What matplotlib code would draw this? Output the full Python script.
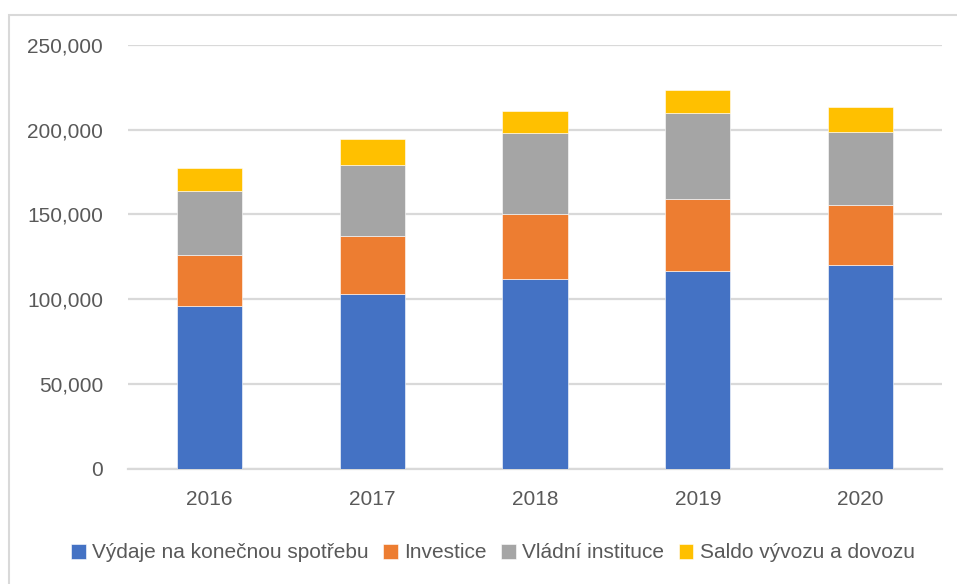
import numpy as np
import matplotlib
matplotlib.use("Agg")
import matplotlib.pyplot as plt
from matplotlib.ticker import FuncFormatter

years = ["2016", "2017", "2018", "2019", "2020"]
spotreba = [96000, 103300, 111750, 116850, 120000]
investice = [29900, 34000, 38500, 42450, 35550]
vladni = [37900, 41600, 47750, 50650, 43000]
saldo = [13700, 15500, 12750, 13550, 14550]

series = [
    ("Výdaje na konečnou spotřebu", spotreba, "#4472C4"),
    ("Investice", investice, "#ED7D31"),
    ("Vládní instituce", vladni, "#A5A5A5"),
    ("Saldo vývozu a dovozu", saldo, "#FFC000"),
]

plt.rcParams["font.family"] = ["Liberation Sans", "DejaVu Sans"]
text_color = "#595959"

W, H = 957, 584
fig = plt.figure(figsize=(W / 100, H / 100), dpi=100)
ax = fig.add_axes([128 / W, 1 - 469 / H, (942 - 128) / W, (469 - 44.7) / H])

x = np.arange(len(years))
bottom = np.zeros(len(years))
for name, vals, color in series:
    ax.bar(x, vals, width=0.4, bottom=bottom, color=color, label=name,
           edgecolor="white", linewidth=0.4, zorder=3)
    bottom += np.array(vals)

ax.set_xlim(-0.5, len(years) - 0.5)
ax.set_ylim(0, 250000)
ax.set_yticks(range(0, 250001, 50000))
ax.yaxis.set_major_formatter(FuncFormatter(lambda v, p: f"{int(v):,}"))
ax.set_xticks(x)
ax.set_xticklabels(years)
ax.tick_params(axis="both", length=0, labelsize=15, colors=text_color)
ax.tick_params(axis="y", pad=18)
ax.tick_params(axis="x", pad=15)
ax.grid(axis="y", color="#D9D9D9", linewidth=1.6, zorder=0)
ax.set_axisbelow(True)
for s in ["top", "right", "left"]:
    ax.spines[s].set_visible(False)
ax.spines["bottom"].set_color("#D9D9D9")
ax.spines["bottom"].set_linewidth(1.6)

# chart area border (cropped Excel frame)
fig.patches.append(plt.Rectangle((8.5 / W, -0.1), 1.2, 1 - 15 / H + 0.1,
                                 transform=fig.transFigure, fill=False,
                                 edgecolor="#D9D9D9", linewidth=1.5))

leg = fig.legend(loc="center", bbox_to_anchor=(493 / W, 1 - 553 / H), ncol=4,
                 frameon=False, fontsize=15, handlelength=0.7, handleheight=0.7,
                 handletextpad=0.3, columnspacing=0.7, labelcolor=text_color)

fig.savefig("out.png", dpi=100)
